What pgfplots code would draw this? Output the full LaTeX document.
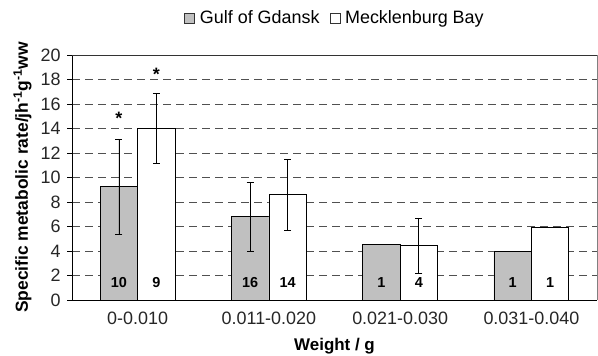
\documentclass[border=0pt]{standalone}
\usepackage{pgfplots}
\pgfplotsset{compat=1.18}
\usepackage{fontspec}
\setmainfont{Liberation Sans}
\definecolor{barg}{RGB}{192,192,192}
\definecolor{gridc}{RGB}{80,80,80}
\begin{document}
\begin{tikzpicture}[x=1bp,y=1bp]
\path[use as bounding box] (0,0) rectangle (598,355);
\begin{axis}[
  at={(72bp,55bp)}, anchor=south west,
  scale only axis, width=525bp, height=245bp,
  xmin=-0.5, xmax=3.5, ymin=0, ymax=20,
  ytick={0,2,...,20},
  xtick={0,1,2,3},
  xticklabels={0-0.010,0.011-0.020,0.021-0.030,0.031-0.040},
  extra x ticks={0.5,1.5,2.5},
  extra x tick labels={},
  extra x tick style={major tick length=4bp, tick style={black}, grid=none},
  /pgf/number format/assume math mode=true,
  tick label style={font=\fontsize{18}{18}\selectfont, text=black!85},
  x tick label style={yshift=-3bp},
  y tick label style={xshift=-3bp},
  major x tick style={draw=none},
  tick align=outside,
  major tick length=5bp,
  y tick style={black},
  ymajorgrids,
  grid style={gridc, line width=0.9pt, dash pattern=on 8bp off 5bp},
  axis line style={black},
  axis x line*=bottom, axis y line*=left,
  clip=false,
  xlabel={\textbf{Weight / g}},
  xlabel style={font=\fontsize{17}{17}\selectfont, yshift=2bp},
  ylabel={\textbf{Specific metabolic rate/jh\textsuperscript{-1}g\textsuperscript{-1}ww}},
  ylabel style={font=\fontsize{17.5}{17.5}\selectfont, yshift=2bp},
  error bars/error bar style={black, line width=0.7pt},
  error bars/error mark options={rotate=90, mark size=3.5bp, black, line width=0.7pt},
]
% frame top and right
\draw[black!80, line width=0.7pt] (axis cs:-0.5,20) -- (axis cs:3.5,20);
\draw[black!50, line width=0.7pt] (axis cs:3.5,0) -- (axis cs:3.5,20);
\addplot[ybar, bar width=0.285, bar shift=0, fill=barg, draw=black, line width=0.6pt,
  error bars/.cd, y dir=both, y explicit]
  coordinates {(-0.1425,9.25) +- (0,3.9) (0.8575,6.8) +- (0,2.8) (1.8575,4.55) +- (0,0) (2.8575,4.0) +- (0,0)};
\addplot[ybar, bar width=0.285, bar shift=0, fill=white, draw=black, line width=0.6pt,
  error bars/.cd, y dir=both, y explicit]
  coordinates {(0.1425,14.0) +- (0,2.85) (1.1425,8.6) +- (0,2.9) (2.1425,4.45) +- (0,2.25) (3.1425,5.95) +- (0,0)};
% n labels
\addplot[draw=none, mark=none, nodes near coords, point meta=explicit symbolic,
  nodes near coords align=center,
  every node near coord/.append style={font=\bfseries\fontsize{14.5}{14.5}\selectfont, anchor=center}]
  coordinates {(-0.1425,1.4)[10] (0.1425,1.4)[9] (0.8575,1.4)[16] (1.1425,1.4)[14]
               (1.8575,1.4)[1] (2.1425,1.4)[4] (2.8575,1.4)[1] (3.1425,1.4)[1]};
% stars
\addplot[draw=none, mark=none, nodes near coords, point meta=explicit symbolic,
  every node near coord/.append style={font=\bfseries\fontsize{18}{18}\selectfont, anchor=center}]
  coordinates {(-0.1425,14.8)[*] (0.1425,18.4)[*]};
\end{axis}
% legend
\node[anchor=center] at (334bp,336bp) {\fontsize{18}{18}\selectfont
  \tikz[baseline=-0.5bp]\draw[fill=barg,draw=black!80,line width=0.6pt] (0,0) rectangle (10bp,10bp);\ Gulf of Gdansk\ \ 
  \tikz[baseline=-0.5bp]\draw[fill=white,draw=black!80,line width=0.6pt] (0,0) rectangle (10bp,10bp);\ Mecklenburg Bay};
\end{tikzpicture}
\end{document}
